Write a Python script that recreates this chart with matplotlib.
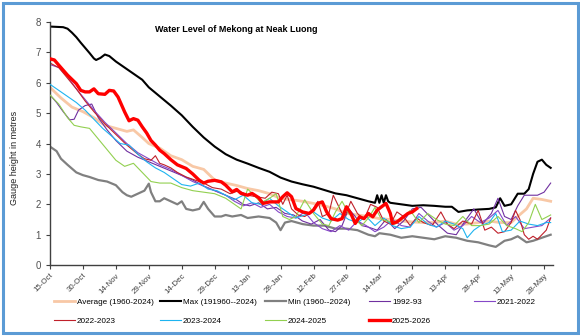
import matplotlib
matplotlib.use("Agg")
import matplotlib.pyplot as plt
from matplotlib.patches import Rectangle

plt.rcParams['font.family'] = ['Liberation Sans', 'DejaVu Sans']

# days counted from 15-Oct
tick_days = [0, 15, 30, 45, 60, 75, 90, 105, 120, 135, 150, 165, 180, 195, 210, 225]
tick_labels = ['15-Oct', '30-Oct', '14-Nov', '29-Nov', '14-Dec', '29-Dec', '13-Jan', '28-Jan',
               '12-Feb', '27-Feb', '14-Mar', '29-Mar', '13-Apr', '28-Apr', '13-May', '28-May']

avg_days = [0, 5, 10, 15, 20, 25, 30, 35, 38, 42, 45, 50, 55, 60, 65, 70, 75, 80, 85, 90, 95, 100,
            105, 110, 115, 120, 125, 130, 135, 140, 145, 150, 155, 160, 165, 170, 175, 180, 185, 190,
            195, 200, 205, 210, 213, 217, 220, 224, 228]
avg_level = [5.85, 5.5, 5.2, 5.05, 4.85, 4.6, 4.5, 4.4, 4.45, 4.2, 4.0, 3.85, 3.6, 3.47, 3.25, 3.15,
             2.8, 2.7, 2.62, 2.52, 2.45, 2.35, 2.19, 2.15, 2.1, 2.03, 1.95, 1.85, 1.7, 1.65, 1.6, 1.53,
             1.5, 1.45, 1.42, 1.4, 1.4, 1.45, 1.35, 1.35, 1.4, 1.45, 1.4, 1.4, 1.6, 1.85, 2.2, 2.16, 2.1]

max_days = [0, 3, 6, 8, 10, 12, 14, 16, 18, 20, 21, 23, 25, 27, 30, 34, 38, 42, 45, 50, 55, 60, 65,
            70, 75, 80, 85, 90, 95, 100, 105, 110, 115, 120, 125, 130, 135, 140, 145, 148, 149, 150,
            151, 152, 153, 154, 155, 160, 165, 170, 175, 180, 183, 186, 190, 195, 200, 203, 205, 207,
            210, 213, 216, 218, 220, 222, 224, 226, 228]
max_level = [7.85, 7.84, 7.83, 7.78, 7.65, 7.5, 7.32, 7.15, 6.98, 6.8, 6.75, 6.82, 6.93, 6.88, 6.7,
             6.5, 6.3, 6.1, 5.85, 5.55, 5.25, 4.93, 4.55, 4.2, 3.9, 3.65, 3.47, 3.34, 3.2, 3.07, 2.88,
             2.75, 2.66, 2.58, 2.47, 2.36, 2.3, 2.2, 2.1, 2.05, 2.3, 2.05, 2.3, 2.05, 2.3, 2.1, 2.05,
             2.0, 1.95, 1.97, 1.95, 1.92, 1.92, 1.75, 1.8, 1.83, 1.85, 1.9, 2.2, 1.95, 2.0, 2.35,
             2.35, 2.5, 3.0, 3.4, 3.47, 3.3, 3.2]

min_days = [0, 3, 5, 8, 12, 15, 18, 22, 26, 30, 33, 35, 37, 40, 43, 45, 46, 48, 50, 52, 55, 58, 60,
            62, 65, 68, 70, 72, 75, 78, 80, 83, 87, 90, 95, 100, 103, 105, 107, 110, 115, 120, 125,
            130, 135, 140, 145, 148, 150, 155, 160, 165, 170, 175, 180, 185, 190, 195, 200, 203, 207,
            210, 213, 217, 220, 224, 228]
min_level = [3.9, 3.75, 3.5, 3.3, 3.05, 2.96, 2.9, 2.8, 2.75, 2.63, 2.4, 2.3, 2.25, 2.35, 2.45, 2.68,
             2.4, 2.1, 2.1, 2.2, 2.1, 2.0, 2.1, 1.85, 1.8, 1.85, 2.08, 1.85, 1.6, 1.6, 1.65, 1.6,
             1.65, 1.55, 1.6, 1.55, 1.4, 1.15, 1.4, 1.45, 1.35, 1.3, 1.3, 1.2, 1.2, 1.15, 1.0, 0.95,
             1.05, 1.0, 0.9, 0.95, 0.9, 0.85, 0.95, 0.9, 0.8, 0.75, 0.65, 0.6, 0.8, 0.85, 0.95, 0.75,
             0.8, 0.9, 1.0]

y1992_days = [0, 3, 6, 9, 11, 13, 16, 19, 22, 26, 30, 35, 40, 45, 50, 55, 60, 65, 70, 75, 80, 85, 88,
              91, 95, 99, 103, 107, 111, 115, 119, 123, 127, 130, 133, 136, 139, 142, 145, 149, 153,
              157, 161, 165, 169, 173, 177, 181, 185, 189, 193, 197, 201, 204, 207, 210, 213, 216,
              219, 222, 225, 228]
y1992_level = [5.6, 5.35, 5.05, 4.78, 4.8, 5.1, 5.25, 5.3, 4.85, 4.45, 4.1, 3.75, 3.55, 3.4, 3.25,
               3.1, 2.95, 2.8, 2.6, 2.45, 2.3, 2.15, 2.0, 1.95, 2.05, 1.85, 1.9, 1.7, 1.65, 1.45, 1.35,
               1.5, 1.15, 1.1, 1.3, 1.85, 1.6, 1.3, 1.25, 1.15, 1.5, 1.2, 1.45, 1.85, 1.9, 1.6, 1.3,
               1.05, 1.0, 1.45, 1.85, 1.35, 1.7, 2.2, 1.6, 1.5, 1.95, 2.3, 2.3, 2.3, 2.4, 2.7]

y2021_days = [0, 4, 8, 12, 16, 20, 25, 30, 35, 40, 45, 50, 55, 60, 65, 70, 75, 80, 84, 88, 92, 96,
              100, 104, 108, 112, 116, 120, 124, 128, 132, 136, 140, 144, 148, 152, 156, 160, 164,
              168, 172, 176, 180, 184, 188, 192, 196, 200, 204, 208, 212, 216, 220, 224, 228]
y2021_level = [6.6, 6.5, 6.2, 5.8, 5.45, 5.1, 4.7, 4.35, 4.0, 3.7, 3.5, 3.3, 3.15, 2.95, 2.75, 2.6,
               2.45, 2.3, 2.1, 1.95, 2.05, 1.9, 2.0, 1.75, 1.6, 1.55, 1.75, 1.4, 1.2, 1.1, 1.3, 1.15,
               1.45, 1.3, 1.1, 1.25, 1.5, 1.3, 1.25, 1.7, 1.45, 1.25, 1.4, 1.15, 1.3, 1.6, 1.4, 1.55,
               1.8, 1.3, 1.6, 1.2, 1.25, 1.3, 1.55]

y2022_days = [0, 4, 8, 12, 16, 20, 25, 30, 35, 40, 43, 46, 48, 50, 52, 55, 58, 62, 66, 70, 74, 78,
              82, 86, 90, 94, 98, 101, 104, 106, 108, 110, 113, 116, 119, 122, 124, 127, 129, 131,
              134, 137, 140, 143, 146, 149, 152, 155, 158, 161, 164, 167, 170, 174, 178, 181, 184,
              188, 192, 195, 198, 201, 204, 207, 210, 212, 214, 216, 218, 220, 222, 224, 226, 228]
y2022_level = [6.65, 6.5, 6.15, 5.8, 5.4, 5.05, 4.65, 4.3, 3.95, 3.65, 3.5, 3.45, 3.6, 3.35, 3.3,
               3.2, 3.05, 2.9, 2.8, 2.7, 2.55, 2.5, 2.35, 2.45, 2.3, 2.25, 2.2, 2.4, 2.35, 2.0, 2.3,
               1.85, 1.65, 1.6, 1.75, 2.1, 1.6, 1.7, 2.3, 2.0, 1.55, 2.1, 1.7, 1.5, 2.0, 1.9, 1.45,
               1.35, 1.75, 1.6, 1.3, 1.55, 1.4, 1.3, 1.75, 1.35, 1.2, 1.45, 1.35, 1.8, 1.15, 1.25,
               1.05, 1.1, 1.4, 1.8, 1.5, 1.0, 0.85, 0.95, 0.85, 1.0, 1.15, 1.55]

y2023_days = [0, 4, 8, 12, 16, 20, 24, 28, 32, 36, 40, 44, 48, 52, 56, 60, 64, 68, 72, 76, 80, 84,
              88, 92, 96, 100, 104, 108, 112, 116, 120, 124, 128, 132, 136, 140, 144, 148, 152, 156,
              160, 164, 168, 172, 176, 180, 184, 188, 190, 193, 196, 200, 203, 206, 210, 214, 218,
              222, 226, 228]
y2023_level = [5.95, 5.75, 5.55, 5.35, 5.1, 4.8, 4.5, 4.25, 4.0, 3.95, 3.65, 3.4, 3.2, 3.05, 2.85,
               2.65, 2.6, 2.7, 2.5, 2.45, 2.3, 2.15, 2.3, 2.05, 2.0, 2.2, 1.95, 1.75, 1.55, 1.65, 1.75,
               1.55, 1.45, 1.7, 1.5, 1.4, 1.6, 1.3, 1.55, 1.3, 1.2, 1.25, 1.6, 1.35, 1.25, 1.45, 1.35,
               1.2, 0.9, 1.15, 1.3, 1.4, 1.7, 1.1, 1.15, 1.45, 1.35, 1.3, 1.4, 1.4]

y2024_days = [0, 4, 8, 11, 14, 18, 22, 26, 30, 34, 38, 42, 46, 50, 55, 60, 65, 70, 75, 80, 84, 87,
              90, 93, 96, 100, 103, 106, 109, 112, 116, 120, 124, 127, 130, 133, 136, 139, 142, 145,
              148, 151, 154, 157, 160, 164, 168, 172, 176, 180, 184, 188, 192, 196, 200, 204, 208,
              212, 215, 218, 221, 224, 228]
y2024_level = [5.6, 5.3, 4.85, 4.6, 4.55, 4.5, 4.15, 3.8, 3.45, 3.25, 3.35, 3.05, 2.75, 2.7, 2.7,
               2.55, 2.45, 2.4, 2.35, 2.2, 2.0, 1.85, 2.5, 2.3, 2.05, 2.2, 2.35, 1.6, 1.5, 1.6, 2.15,
               1.7, 1.35, 1.3, 1.75, 2.1, 1.7, 1.5, 1.3, 1.55, 1.9, 1.5, 1.45, 1.35, 1.5, 1.8, 1.4,
               1.7, 1.5, 1.35, 1.3, 1.6, 1.3, 1.3, 1.35, 1.6, 1.3, 1.2, 1.1, 1.4, 2.0, 1.5, 1.65]

y2025_days = [0, 2, 4, 8, 12, 14, 16, 18, 20, 22, 25, 27, 29, 31, 34, 36, 38, 40, 42, 44, 46, 48,
              50, 52, 55, 58, 62, 65, 68, 70, 72, 75, 78, 80, 83, 85, 87, 90, 92, 95, 97, 100, 104,
              106, 108, 110, 112, 115, 118, 120, 122, 124, 126, 128, 131, 133, 135, 137, 139, 141,
              143, 145, 147, 149, 151, 153, 155, 156, 158, 161, 163, 165, 167]
y2025_level = [6.79, 6.75, 6.58, 6.25, 5.97, 5.75, 5.7, 5.7, 5.8, 5.64, 5.62, 5.75, 5.73, 5.53,
               5.04, 4.75, 4.82, 4.77, 4.55, 4.35, 4.1, 3.95, 3.78, 3.67, 3.47, 3.3, 3.18, 3.0, 2.79,
               2.7, 2.76, 2.79, 2.74, 2.63, 2.41, 2.49, 2.36, 2.3, 2.36, 2.22, 2.03, 2.08, 2.08, 2.25,
               2.38, 2.25, 1.86, 1.75, 1.7, 1.81, 2.03, 2.08, 1.75, 1.53, 1.48, 1.53, 1.92, 1.7, 1.37,
               1.59, 1.53, 1.7, 1.59, 1.81, 1.92, 2.03, 1.7, 1.37, 1.42, 1.59, 1.7, 1.75, 1.86]

series = [
    ('Average (1960-2024)', avg_days, avg_level, '#F8C8A6', 2.0),
    ('Max (191960--2024)', max_days, max_level, '#000000', 1.5),
    ('Min (1960--2024)', min_days, min_level, '#808080', 1.6),
    ('1992-93', y1992_days, y1992_level, '#7030A0', 0.8),
    ('2021-2022', y2021_days, y2021_level, '#8548C8', 0.8),
    ('2022-2023', y2022_days, y2022_level, '#C0202A', 0.8),
    ('2023-2024', y2023_days, y2023_level, '#1EB4F0', 0.8),
    ('2024-2025', y2024_days, y2024_level, '#92D050', 0.8),
    ('2025-2026', y2025_days, y2025_level, '#FF0000', 2.4),
]

fig = plt.figure(figsize=(5.8, 3.36), dpi=100)
ax = fig.add_axes([0.0862, 0.211, 0.867, 0.7235])

draw_order = [0, 2, 3, 4, 5, 6, 7, 1, 8]
handles = {}
for i in draw_order:
    name, d, v, col, lw = series[i]
    handles[i], = ax.plot(d, v, color=col, lw=lw, label=name, zorder=2 + i * 0.1)

ax.set_xlim(0, 229)
ax.set_ylim(0, 8)
ax.set_xticks(tick_days)
ax.set_xticklabels(tick_labels, rotation=45, ha='right', rotation_mode='anchor',
                   fontsize=5.7, color='#404040')
ax.set_yticks(range(0, 9))
ax.tick_params(axis='y', labelsize=7, labelcolor='#505050', length=3, width=0.8, color='#404040')
ax.tick_params(axis='x', length=3, width=0.8, color='#404040', pad=2)
for s in ['top', 'right']:
    ax.spines[s].set_visible(False)
for s in ['left', 'bottom']:
    ax.spines[s].set_color('#404040')
    ax.spines[s].set_linewidth(1.0)

fig.text(155 / 580, 1 - 29 / 336, 'Water Level of Mekong at Neak Luong', fontsize=6.5,
         fontweight='bold', ha='left', va='center')
fig.text(15 / 580, 1 - 158 / 336, 'Gauge height in metres', fontsize=6.5, rotation=90,
         ha='center', va='center', color='#202020')

# legend: five columns of two entries each
col_x = [54, 160, 265, 369, 474]
for c in range(5):
    hs = [handles[c]]
    if c + 5 < len(series):
        hs.append(handles[c + 5])
    fig.legend(handles=hs, loc='upper left', bbox_to_anchor=(col_x[c] / 580, 1 - 298 / 336),
               frameon=False, fontsize=5.9, handlelength=2.6, handletextpad=0.2,
               borderpad=0, borderaxespad=0, labelspacing=1.45)

fig.patches.append(Rectangle((0.006, 0.008), 0.99, 0.984, transform=fig.transFigure,
                             fill=False, edgecolor='#5B9BD5', lw=2.2))

fig.savefig('out.png', dpi=100)
